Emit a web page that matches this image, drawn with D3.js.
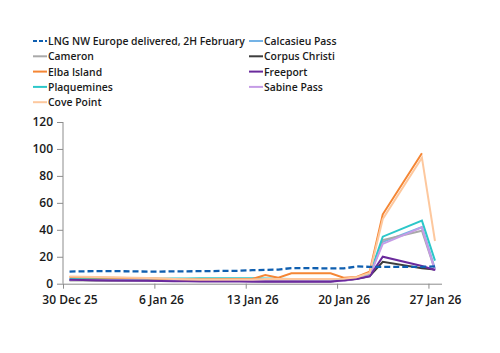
<!DOCTYPE html>
<html>
<head>
<meta charset="utf-8">
<script src="https://cdn.jsdelivr.net/npm/d3@7"></script>
<style>
  body { margin: 0; background: #fff; }
  svg text { font-family: "Open Sans", "DejaVu Sans", sans-serif; font-weight: 600; fill: #1a1a1a; }
</style>
</head>
<body>
<div id="chart"></div>
<script>
// LNG: NW Europe 2H Feb vs US terminal series (business days)
var dates = ["2025-12-30","2025-12-31","2026-01-01","2026-01-02",
  "2026-01-05","2026-01-06","2026-01-07","2026-01-08","2026-01-09",
  "2026-01-12","2026-01-13","2026-01-14","2026-01-15","2026-01-16",
  "2026-01-19","2026-01-20","2026-01-21","2026-01-22","2026-01-23",
  "2026-01-26","2026-01-27"];

var lngNW     = [9, 9.2, 9.3, 9.4, 9, 9, 9.2, 9.2, 9.3, 9.6, 10, 10.3, 10.5, 11.6, 11.4, 11.3, 12.8, 12.5, 12.5, 12.5, 12.8];
var calcasieu = [3.2, 3.2, 3.2, 3.1, 3, 3, 3, 3, 3, 3, 3, 2.8, 2.6, 2.5, 2.5, 2.6, 3.8, 6.2, 31, 42, 11];
var cameron   = [3, 3, 3, 3, 3, 3, 3, 3, 3, 3, 3, 2.8, 2.6, 2.5, 2.5, 2.6, 3.8, 6.5, 32.4, 39.3, 10.2];
var corpus    = [2.5, 2.5, 2.4, 2.4, 2.3, 2.2, 2.2, 2.1, 2, 2, 2, 1.9, 1.8, 1.8, 1.8, 2.4, 3.6, 5.6, 16.3, 11.4, 10.6];
var elba      = [5, 4.8, 4.6, 4.4, 4, 3.6, 3.4, 3.3, 3.3, 3.4, 3.5, 6.5, 4.5, 7.7, 7.7, 4.5, 5, 9, 51.5, 96.8, null];
var freeport  = [3, 2.8, 2.6, 2.4, 2.2, 2, 1.9, 1.8, 1.6, 1.6, 1.5, 1.4, 1.4, 1.4, 1.5, 2.5, 3.5, 5.5, 20, 13.1, 10.2];
var plaquem   = [3.5, 3.5, 3.6, 3.6, 3.6, 3.7, 3.8, 3.9, 4, 4, 4, 3.8, 3.6, 3.4, 3.3, 3.3, 4, 6.5, 34.9, 46.8, 17.1];
var sabine    = [2.8, 2.7, 2.6, 2.5, 2.3, 2.2, 2.1, 2, 2, 2, 2, 1.8, 1.8, 1.8, 1.8, 2, 3.8, 6, 29.5, 41.8, 9.7];
var covePoint = [5.3, 5.2, 5, 4.8, 4.3, 3.8, 3.5, 3.3, 3.2, 3.2, 3.2, 3.4, 3.4, 3.5, 3.5, 3.6, 4.8, 8, 48, 93.5, 31.7];

var seriesNames = ["LNG NW Europe delivered, 2H February", "Calcasieu Pass", "Cameron",
  "Corpus Christi", "Elba Island", "Freeport", "Plaquemines", "Sabine Pass", "Cove Point"];
var seriesVals = [lngNW, calcasieu, cameron, corpus, elba, freeport, plaquem, sabine, covePoint];
var seriesColors = ["#0f5fb0", "#74b3e6", "#a9a9a9", "#3d3d3d", "#f58634", "#6a2a9c", "#2cc7c9", "#c59ce6", "#fdc89e"];

var yTicks = [0, 20, 40, 60, 80, 100, 120];
var xTickDates = ["2025-12-30", "2026-01-06", "2026-01-13", "2026-01-20", "2026-01-27"];
var xTickLabels = ["30 Dec 25", "6 Jan 26", "13 Jan 26", "20 Jan 26", "27 Jan 26"];

var width = 500, height = 353,
    plot = {left: 63, right: 441.5, top: 122, bottom: 283.7};

var parse = d3.utcParse("%Y-%m-%d");

var svg = d3.select("#chart").append("svg")
  .attr("width", width).attr("height", height);

var x = d3.scaleUtc()
  .domain([parse("2025-12-30"), parse("2026-01-28")])
  .range([plot.left, plot.right]);
var y = d3.scaleLinear().domain([0, 120]).range([plot.bottom, plot.top]);

var halfDay = 12 * 3600 * 1000;
var dayPx = x(parse("2025-12-31")) - x(parse("2025-12-30"));

// axes
var yAxis = svg.append("g")
  .attr("transform", "translate(" + plot.left + ",0)")
  .call(d3.axisLeft(y).tickValues(yTicks).tickSize(6).tickPadding(4));
var xAxis = svg.append("g")
  .attr("transform", "translate(0," + plot.bottom + ")")
  .call(d3.axisBottom(x).tickValues(xTickDates.map(parse))
        .tickFormat(function(d, i){ return xTickLabels[i]; })
        .tickSize(5).tickSizeOuter(0).tickPadding(7));
[yAxis, xAxis].forEach(function(ax){
  ax.select(".domain").attr("stroke", "#8c8c8c");
  ax.selectAll(".tick line").attr("stroke", "#8c8c8c");
  ax.selectAll("text").style("font-size", "12px").attr("fill", "#1a1a1a");
});
yAxis.select(".domain").attr("d", "M0," + plot.top + "V" + plot.bottom);
yAxis.selectAll(".tick text").attr("dy", "0.3em");
// date labels sit at the middle of their day
xAxis.selectAll(".tick text").attr("x", dayPx / 2);

// lines, points centred on each day
var line = d3.line()
  .defined(function(d){ return d.v !== null; })
  .x(function(d){ return x(new Date(d.t.getTime() + halfDay)); })
  .y(function(d){ return y(d.v); });

var drawOrder = [1, 2, 3, 6, 7, 5, 4, 8, 0];
drawOrder.forEach(function(k){
  var pts = dates.map(function(dt, i){ return {t: parse(dt), v: seriesVals[k][i]}; });
  svg.append("path")
    .datum(pts)
    .attr("fill", "none")
    .attr("stroke", seriesColors[k])
    .attr("stroke-width", k === 0 ? 2.3 : 2)
    .attr("stroke-dasharray", k === 0 ? "6,3" : null)
    .attr("stroke-linejoin", "miter")
    .attr("d", line);
});

// legend: two columns, filled row by row
var legCols = [33, 249], legRow0 = 41, legRowH = 15.3;
var leg = svg.append("g");
seriesNames.forEach(function(name, i){
  var cx = legCols[i % 2], cy = legRow0 + Math.floor(i / 2) * legRowH;
  leg.append("line")
    .attr("x1", cx).attr("x2", cx + 14).attr("y1", cy).attr("y2", cy)
    .attr("stroke", seriesColors[i]).attr("stroke-width", 2)
    .attr("stroke-dasharray", i === 0 ? "4,2" : null);
  leg.append("text")
    .attr("x", cx + 15).attr("y", cy + 4)
    .style("font-size", "10.4px")
    .text(name);
});
</script>
</body>
</html>
